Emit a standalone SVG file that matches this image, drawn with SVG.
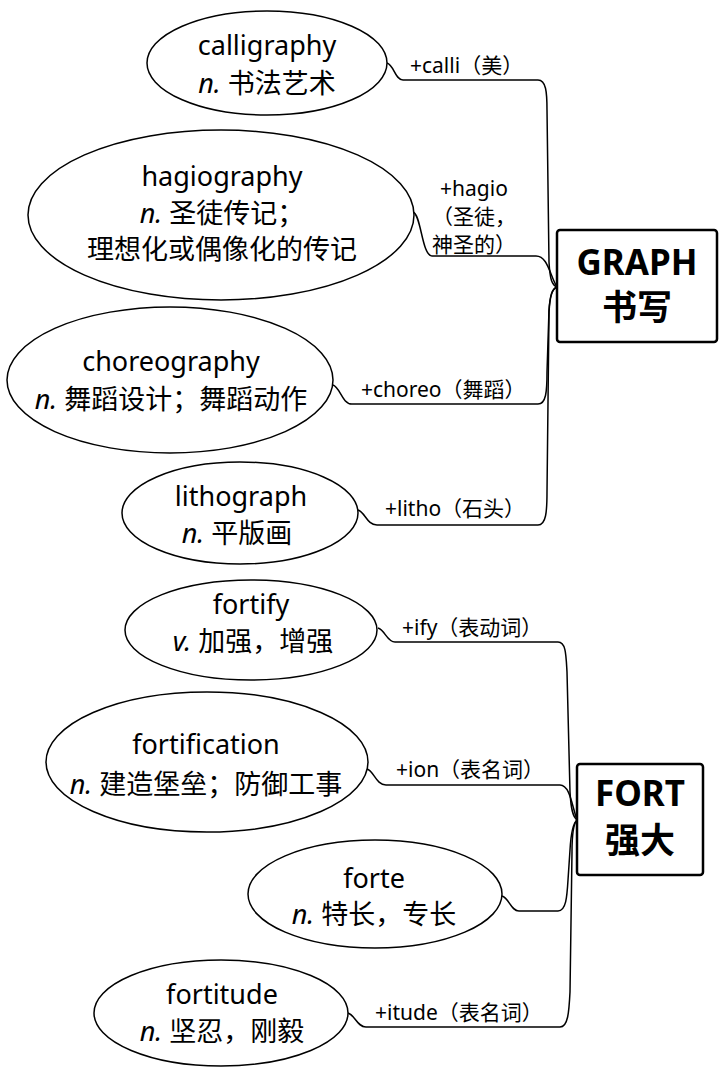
<svg xmlns="http://www.w3.org/2000/svg" width="720" height="1068" viewBox="0 0 720 1068">
<style>
.bg{fill:#fff}
.el{fill:#fff;stroke:#000;stroke-width:1.5}
.box{fill:#fff;stroke:#000;stroke-width:2.5}
.c{fill:none;stroke:#000;stroke-width:1.5;stroke-linejoin:round}
.t{font-family:"Noto Sans","Noto Sans CJK SC",sans-serif;font-size:27px;fill:#000;text-anchor:middle}
.lb{font-family:"Noto Sans","Noto Sans CJK SC",sans-serif;font-size:21px;fill:#000}
.lbm{text-anchor:middle}
.bt{font-family:"Noto Sans","Noto Sans CJK SC",sans-serif;font-size:35px;font-weight:bold;fill:#000;text-anchor:middle}
.i{font-style:italic}
</style>
<rect class="bg" x="0" y="0" width="720" height="1068"/>
<g id="connectors">
<path class="c" d="M387,63 C394,65 395,80 403,80 L538,80 C546,80 547,92 547,110 L549,262 C550,280 552,285 557,287"/>
<path class="c" d="M413,212 C421,214 422,256 432,256 L536,256 C548,256 550,276 557,287"/>
<path class="c" d="M333,385 C340,387 342,404 352,404 L538,404 C546,404 547,392 547,372 L549,310 C550,295 552,289 557,287"/>
<path class="c" d="M358,510 C365,512 367,525 377,525 L538,525 C546,525 547,512 547,492 L549,312 C550,296 552,289 557,287"/>
<path class="c" d="M378,628 C385,630 387,642 395,642 L558,642 C566,642 566,655 567,672 L570,792 C571,810 573,817 577,820"/>
<path class="c" d="M367,769 C374,771 376,785 386,785 L560,785 C570,785 572,806 577,820"/>
<path class="c" d="M502,896 C509,898 511,911 519,911 L558,911 C566,911 567,897 568,880 L570,850 C571,832 573,823 577,820"/>
<path class="c" d="M348,1013 C355,1015 357,1027 366,1027 L560,1027 C568,1027 569,1012 570,992 L572,852 C572,832 574,823 577,820"/>
</g>
<g id="graph">
<rect class="box" x="557" y="230" width="160" height="112" rx="3"/>
<text class="bt" x="637" y="275">GRAPH</text>
<text class="bt" x="637" y="320">书写</text>
</g>
<g id="fort">
<rect class="box" x="577" y="764" width="126" height="111" rx="3"/>
<text class="bt" x="640" y="806">FORT</text>
<text class="bt" x="640" y="853">强大</text>
</g>
<g id="calligraphy">
<ellipse class="el" cx="267" cy="63" rx="120" ry="52"/>
<text class="t" x="267" y="55">calligraphy</text>
<text class="t" x="267" y="93"><tspan class="i">n.</tspan> 书法艺术</text>
</g>
<g id="hagiography">
<ellipse class="el" cx="221" cy="215" rx="193" ry="85"/>
<text class="t" x="222" y="186">hagiography</text>
<text class="t" x="222" y="223"><tspan class="i">n.</tspan> 圣徒传记；</text>
<text class="t" x="222" y="259">理想化或偶像化的传记</text>
</g>
<g id="choreography">
<ellipse class="el" cx="170" cy="380" rx="163" ry="73"/>
<text class="t" x="171" y="371">choreography</text>
<text class="t" x="171" y="409"><tspan class="i">n.</tspan> 舞蹈设计；舞蹈动作</text>
</g>
<g id="lithograph">
<ellipse class="el" cx="240" cy="513" rx="118" ry="51"/>
<text class="t" x="241" y="506">lithograph</text>
<text class="t" x="237" y="543"><tspan class="i">n.</tspan> 平版画</text>
</g>
<g id="fortify">
<ellipse class="el" cx="251" cy="630" rx="126" ry="50"/>
<text class="t" x="251" y="614">fortify</text>
<text class="t" x="253" y="651"><tspan class="i">v.</tspan> 加强，增强</text>
</g>
<g id="fortification">
<ellipse class="el" cx="207" cy="762" rx="161" ry="70"/>
<text class="t" x="206" y="754">fortification</text>
<text class="t" x="206" y="794"><tspan class="i">n.</tspan> 建造堡垒；防御工事</text>
</g>
<g id="forte">
<ellipse class="el" cx="375" cy="894" rx="127" ry="54"/>
<text class="t" x="374" y="888">forte</text>
<text class="t" x="374" y="924"><tspan class="i">n.</tspan> 特长，专长</text>
</g>
<g id="fortitude">
<ellipse class="el" cx="221" cy="1013" rx="127" ry="53"/>
<text class="t" x="222" y="1004">fortitude</text>
<text class="t" x="222" y="1041"><tspan class="i">n.</tspan> 坚忍，刚毅</text>
</g>
<g id="labels">
<text class="lb" x="410" y="73">+calli（美）</text>
<text class="lb lbm" x="474" y="196">+hagio</text>
<text class="lb lbm" x="474" y="224">（圣徒，</text>
<text class="lb lbm" x="474" y="252">神圣的）</text>
<text class="lb" x="361" y="397">+choreo（舞蹈）</text>
<text class="lb" x="385" y="516">+litho（石头）</text>
<text class="lb" x="402" y="635">+ify（表动词）</text>
<text class="lb" x="396" y="777">+ion（表名词）</text>
<text class="lb" x="375" y="1020">+itude（表名词）</text>
</g>
</svg>
